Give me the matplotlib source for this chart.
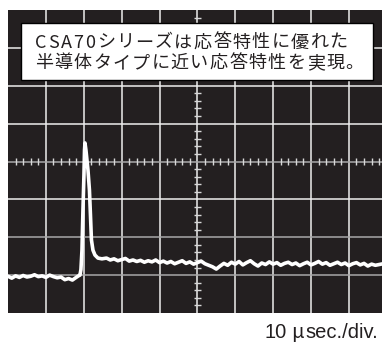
import numpy as np
import matplotlib
matplotlib.use("Agg")
import matplotlib.pyplot as plt
from matplotlib.patches import Rectangle

W, H = 382, 343

# ---- text content ----
line1 = "CSA70シリーズは応答特性に優れた"
line2 = "半導体タイプに近い応答特性を実現。"
scale_num = "10"
scale_mu = "μ"
scale_unit = "sec./div."

# ---- trace data (time in µs, 10 µs/div ; signal in divisions) ----
time_us = [0, 1, 2, 3, 4, 5, 6, 7, 8, 9, 10, 11, 12, 13, 14, 15, 16, 17, 18,
           18.6, 19.0, 19.26, 19.53, 19.79, 20.05, 20.2, 20.32, 20.58, 21.11,
           21.5, 21.77, 22.03, 22.43, 22.96, 23.75, 24.8,
           26, 27, 28, 29, 30, 31, 32, 33, 34, 35, 36, 37, 38, 39, 40, 41, 42,
           43, 44, 45, 46, 47, 48, 49, 50, 51, 52, 53, 54, 55, 56, 57, 58, 59,
           60, 61, 62, 63, 64, 65, 66, 67, 68, 69, 70, 71, 72, 73, 74, 75, 76,
           77, 78, 79, 80, 81, 82, 83, 84, 85, 86, 87, 88, 89, 90, 91, 92, 93,
           94, 95, 96, 97, 98, 99]
signal_div = [-3.03, -3.08, -3.02, -3.06, -3.01, -3.05, -3.03, -2.99, -3.04,
              -3.02, -3.06, -3.00, -3.04, -3.07, -3.05, -3.12, -3.09, -3.13,
              -3.06,
              -3.02, -3.00, -2.85, -2.34, -1.28, -0.36, 0.30, 0.49, 0.30, -0.22,
              -0.75, -1.41, -2.07, -2.34, -2.47, -2.55, -2.57,
              -2.55, -2.60, -2.57, -2.62, -2.59, -2.56, -2.63, -2.60, -2.64,
              -2.61, -2.66, -2.62, -2.65, -2.60, -2.67, -2.63, -2.68, -2.64,
              -2.70, -2.66, -2.62, -2.69, -2.65, -2.71, -2.67, -2.63, -2.70,
              -2.74, -2.78, -2.84, -2.76, -2.69, -2.74, -2.66, -2.71, -2.64,
              -2.73, -2.67, -2.62, -2.70, -2.76, -2.68, -2.72, -2.65, -2.71,
              -2.67, -2.74, -2.69, -2.66, -2.72, -2.68, -2.75, -2.70, -2.66,
              -2.73, -2.69, -2.64, -2.71, -2.67, -2.74, -2.70, -2.66, -2.72,
              -2.68, -2.75, -2.70, -2.67, -2.73, -2.69, -2.76, -2.71, -2.74,
              -2.72, -2.70]

# ---- figure ----
fig = plt.figure(figsize=(W / 100, H / 100), dpi=100)
fig.patch.set_facecolor("white")

def fx(px):
    return px / W

def fy(py):
    return 1 - py / H

ax_left, ax_top, ax_right, ax_bottom = 8, 10, 382, 313
ax = fig.add_axes([fx(ax_left), fy(ax_bottom), (ax_right - ax_left) / W,
                   (ax_bottom - ax_top) / H])
ax.set_facecolor("#231f20")
px_per_div = (ax_bottom - ax_top) / 8.0
ax.set_xlim(0, (ax_right - ax_left) / px_per_div * 10)
ax.set_ylim(-4, 4)
ax.set_xticks([])
ax.set_yticks([])
for s in ax.spines.values():
    s.set_visible(False)

# grid
for xv in range(10, 100, 10):
    ax.axvline(xv, color="#eeeeee", lw=1.1, zorder=1)
for yv in range(-3, 4):
    col = "#a8a8a8" if yv in (-3, -2, 0) else "#eeeeee"
    ax.axhline(yv, color=col, lw=1.1, zorder=1)

# minor ticks on the centre axes
half_y = 3.8 / px_per_div
half_x = 3.8 / px_per_div * 10
xt = [v for v in np.arange(2, 100, 2) if v % 10 != 0]
ax.vlines(xt, -half_y, half_y, color="#d8d8d8", lw=1.0, zorder=1)
yt = [v for v in np.round(np.arange(-3.8, 4.0, 0.2), 2) if abs(v - round(v)) > 1e-6]
ax.hlines(yt, 50 - half_x, 50 + half_x, color="#d8d8d8", lw=1.0, zorder=1)

# trace
ax.plot(time_us, signal_div, color="white", lw=2.6, zorder=3,
        solid_joinstyle="round", solid_capstyle="round")

# ---- caption box ----
box = Rectangle((fx(21), fy(80)), (372.5 - 21) / W, (80 - 23) / H,
                transform=fig.transFigure, facecolor="white",
                edgecolor="black", lw=1.0, zorder=5)
fig.add_artist(box)

renderer = fig.canvas.get_renderer()
fam = ["Noto Sans CJK JP", "DejaVu Sans"]
fsize = 13
pitch = 19.4
latin_gap = 1.6

def tracked(text, x0, baseline):
    x = x0
    for ch in text:
        t = fig.text(fx(x), fy(baseline), ch, fontsize=fsize, family=fam,
                     ha="left", va="baseline", color="#231f20", zorder=6)
        if ord(ch) >= 0x3000:
            x += pitch
        else:
            bb = t.get_window_extent(renderer=renderer)
            x += bb.width + latin_gap

tracked(line1, 35.5, 47.5)
tracked(line2, 35.0, 68)

# ---- scale label ----
lab_fam = ["Liberation Sans", "DejaVu Sans"]
lsize = 14.5
fig.text(fx(265), fy(338.5), scale_num, fontsize=lsize, family=lab_fam,
         ha="left", va="baseline", color="#231f20")
fig.text(fx(291.5), fy(338.5), scale_mu, fontsize=lsize, family=fam,
         ha="left", va="baseline", color="#231f20")
fig.text(fx(378), fy(338.5), scale_unit, fontsize=lsize, family=lab_fam,
         ha="right", va="baseline", color="#231f20")

fig.savefig("out.png", dpi=100, facecolor="white")
